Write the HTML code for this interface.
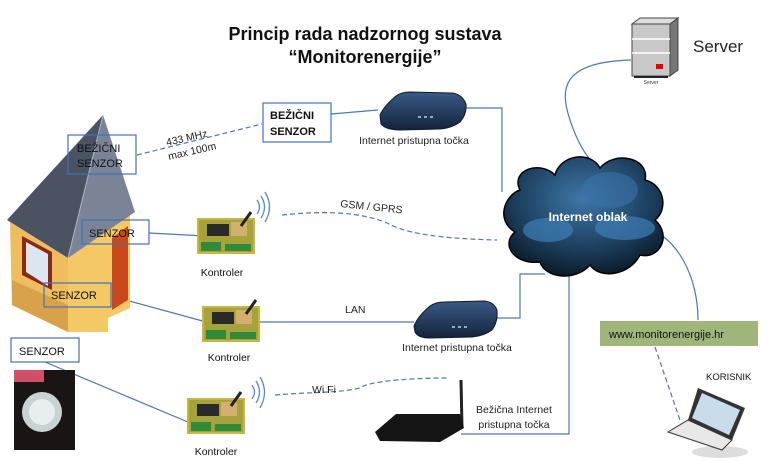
<!DOCTYPE html>
<html><head><meta charset="utf-8"><style>
html,body{margin:0;padding:0;background:#fff}
svg{display:block}
text{font-family:"Liberation Sans",sans-serif}
</style></head><body>
<svg width="768" height="461" viewBox="0 0 768 461" xmlns="http://www.w3.org/2000/svg">
<defs>
<radialGradient id="cl" cx="0.5" cy="0.35" r="0.7">
<stop offset="0" stop-color="#3e78a8"/><stop offset="0.6" stop-color="#1d3f5e"/><stop offset="1" stop-color="#081522"/>
</radialGradient>
<linearGradient id="rt" x1="0" y1="0" x2="0" y2="1">
<stop offset="0" stop-color="#3a5a86"/><stop offset="1" stop-color="#14233a"/>
</linearGradient>
<g id="ctl">
<rect x="0" y="6" width="58" height="36" fill="#c9b445"/>
<rect x="2" y="8" width="54" height="32" fill="#a6a23c"/>
<rect x="10" y="12" width="22" height="12" fill="#2a2a2a"/>
<rect x="34" y="10" width="16" height="14" fill="#d4b070"/>
<rect x="4" y="30" width="20" height="9" fill="#2f8a3a"/>
<rect x="28" y="32" width="26" height="7" fill="#2f8a3a"/>
<line x1="44" y1="14" x2="54" y2="0" stroke="#222" stroke-width="3"/>
</g>
</defs>

<text x="365" y="40" font-size="18" font-weight="bold" text-anchor="middle" fill="#111">Princip rada nadzornog sustava</text>
<text x="365" y="63" font-size="18" font-weight="bold" text-anchor="middle" fill="#111">“Monitorenergije”</text>

<polygon points="632,24 640,18 678,18 670,24" fill="#ddd" stroke="#444" stroke-width="1"/>
<polygon points="670,24 678,18 678,70 670,76" fill="#777" stroke="#444"/>
<rect x="632" y="24" width="38" height="52" fill="#c8c8c8" stroke="#444"/>
<line x1="632" y1="39" x2="670" y2="39" stroke="#fff" stroke-width="1.5"/>
<line x1="632" y1="53" x2="670" y2="53" stroke="#fff" stroke-width="1.5"/>
<rect x="656" y="64" width="7" height="5" fill="#e00"/>
<rect x="634" y="76" width="34" height="2" fill="#222"/>
<text x="651" y="84" font-size="5" text-anchor="middle" fill="#333">Server</text>
<text x="693" y="52" font-size="17" fill="#222">Server</text>

<g fill="none" stroke="#4a78b8" stroke-width="1.2">
<path d="M631,60 C560,62 560,90 570,120 C580,150 590,160 598,168"/>
<path d="M331,114 L378,110"/>
<path d="M463,108 L502,108 L502,192"/>
<path d="M638,224 C680,235 698,280 698,320"/>
<path d="M149,233 L205,236"/>
<path d="M111,296 L210,323"/>
<path d="M255,322 L414,322"/>
<path d="M492,318 L520,318 L520,274 L545,274"/>
<path d="M569,276 L569,434 L461,434"/>
<path d="M45,362 L195,425"/>
</g>
<g fill="none" stroke="#4a78b8" stroke-width="1.2" stroke-dasharray="5,3">
<path d="M137,155 L262,124"/>
<path d="M282,215 C330,210 360,213 385,222 C400,230 420,238 497,240"/>
<path d="M275,395 C310,392 340,393 360,388 C370,380 420,378 448,378"/>
<path d="M655,347 L680,420"/>
</g>

<polygon points="10,222 68,258 68,332 12,305" fill="#f0bd5e"/>
<polygon points="12,280 68,305 68,332 12,305" fill="#d9a24a"/>
<polygon points="68,258 130,212 130,308 108,318 108,332 68,332" fill="#f3c865"/>
<polygon points="112,238 128,226 128,300 112,310" fill="#c8481c"/>
<polygon points="22,236 52,252 52,290 22,275" fill="#8b2a14"/>
<polygon points="26,242 48,254 48,286 26,272" fill="#dde6f0"/>
<polygon points="103,115 7,220 68,258" fill="#4b5262"/>
<polygon points="103,115 68,258 135,212" fill="#7b8396"/>
<line x1="103" y1="115" x2="68" y2="258" stroke="#b0b6c4" stroke-width="1"/>

<g fill="#fff" fill-opacity="0" stroke="#3f72bf" stroke-width="1.2">
<rect x="68" y="135" width="68" height="39"/>
<rect x="263" y="103" width="68" height="39"/>
<rect x="82" y="220" width="67" height="24"/>
<rect x="44" y="283" width="67" height="24"/>
</g>
<rect x="11" y="338" width="68" height="24" fill="#fff" stroke="#3f72bf" stroke-width="1.2"/>
<g font-size="11" fill="#111">
<text x="77" y="152">BEŽIČNI</text><text x="77" y="167">SENZOR</text>
<text x="270" y="119" font-weight="bold">BEŽIČNI</text><text x="270" y="135" font-weight="bold">SENZOR</text>
<text x="89" y="237">SENZOR</text>
<text x="51" y="299">SENZOR</text>
<text x="19" y="355">SENZOR</text>
</g>
<text transform="translate(167,146) rotate(-13)" font-size="10.5" fill="#222">433 MHz</text>
<text transform="translate(169,160) rotate(-13)" font-size="10.5" fill="#222">max 100m</text>

<rect x="14" y="370" width="61" height="80" fill="#1a1414"/>
<rect x="14" y="370" width="30" height="12" fill="#d0506a"/>
<circle cx="42" cy="412" r="20" fill="#c8d4d4"/>
<circle cx="42" cy="412" r="13" fill="#e8eef0"/>

<path d="M380,115 Q384,106 396,96 Q402,92 410,92 L452,93 Q462,94 466,104 Q467,114 460,122 Q452,128 440,129 L400,130 Q386,130 381,124 Z" fill="url(#rt)" stroke="#0d1a2c" stroke-width="1"/>
<g fill="#9ab"><rect x="418" y="116" width="3" height="2"/><rect x="424" y="116" width="3" height="2"/><rect x="430" y="116" width="3" height="2"/></g>
<text x="414" y="144" font-size="10.5" text-anchor="middle" fill="#222">Internet pristupna točka</text>

<use href="#ctl" x="197" y="212"/>
<use href="#ctl" x="202" y="300"/>
<use href="#ctl" x="187" y="392"/>
<text x="222" y="276" font-size="10.5" text-anchor="middle" fill="#111">Kontroler</text>
<text x="229" y="361" font-size="10.5" text-anchor="middle" fill="#111">Kontroler</text>
<text x="216" y="455" font-size="10.5" text-anchor="middle" fill="#111">Kontroler</text>

<g fill="none" stroke="#5a88c8" stroke-width="1.3">
<path d="M257,200 Q262,207 257,214"/><path d="M261,196 Q268,207 261,218"/><path d="M265,192 Q274,207 265,222"/>
<path d="M252,385 Q257,392 252,399"/><path d="M256,381 Q263,392 256,403"/><path d="M260,377 Q269,392 260,408"/>
</g>
<text transform="translate(340,207) rotate(6)" font-size="10.5" fill="#222">GSM / GPRS</text>
<text x="345" y="313" font-size="10.5" fill="#222">LAN</text>
<text x="312" y="393" font-size="10.5" fill="#222">Wi Fi</text>

<path d="M414,326 Q418,316 430,306 Q436,302 444,302 L484,301 Q494,302 497,310 Q498,322 492,330 Q484,336 472,337 L430,338 Q418,338 415,332 Z" fill="url(#rt)" stroke="#0d1a2c" stroke-width="1"/>
<g fill="#9ab"><rect x="452" y="326" width="3" height="2"/><rect x="458" y="326" width="3" height="2"/><rect x="464" y="326" width="3" height="2"/></g>
<text x="457" y="351" font-size="10.5" text-anchor="middle" fill="#222">Internet pristupna točka</text>

<line x1="461" y1="380" x2="462" y2="428" stroke="#222" stroke-width="3"/>
<path d="M375,432 L396,414 L460,414 L464,428 L440,442 L380,441 Z" fill="#151515"/>
<text x="514" y="413" font-size="10.5" text-anchor="middle" fill="#222">Bežična  Internet</text>
<text x="514" y="428" font-size="10.5" text-anchor="middle" fill="#222">pristupna točka</text>

<path d="M520,190 C510,170 540,160 555,175 C560,155 590,150 600,168 C615,150 650,158 645,180 C665,185 668,210 655,220 C672,235 660,260 640,255 C630,275 600,280 590,265 C575,282 545,278 540,262 C515,265 500,245 515,232 C495,220 505,195 520,190 Z" fill="url(#cl)" stroke="#000" stroke-width="1.5"/>
<ellipse cx="548" cy="230" rx="25" ry="12" fill="#3f7fb8" opacity="0.7"/>
<ellipse cx="625" cy="228" rx="30" ry="12" fill="#3f7fb8" opacity="0.7"/>
<ellipse cx="610" cy="190" rx="28" ry="18" fill="#3a72a8" opacity="0.6"/>
<text x="588" y="221" font-size="12" font-weight="bold" text-anchor="middle" fill="#fff">Internet oblak</text>

<rect x="600" y="321" width="158" height="25" fill="#a0b57a"/>
<text x="609" y="338" font-size="11" fill="#111">www.monitorenergije.hr</text>

<text x="706" y="380" font-size="9.5" fill="#111">KORISNIK</text>
<ellipse cx="720" cy="452" rx="28" ry="6" fill="#ddd"/>
<polygon points="698,388 745,408 732,440 688,420" fill="#333"/>
<polygon points="702,393 740,410 729,435 692,418" fill="#c9dceb"/>
<polygon points="688,420 732,440 722,450 668,432" fill="#e8e8e8" stroke="#333"/>
</svg>
</body></html>
